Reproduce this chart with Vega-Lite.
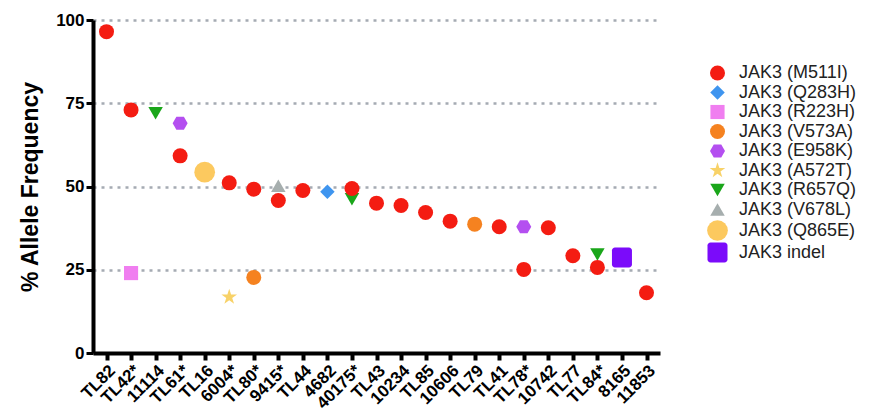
{
  "$schema": "https://vega.github.io/schema/vega-lite/v6.json",
  "width": 567,
  "height": 333,
  "autosize": {"type": "none"},
  "padding": {"left": 93, "top": 20, "right": 214, "bottom": 63},
  "background": "white",
  "config": {
    "view": {"stroke": null},
    "font": "Liberation Sans"
  },
  "data": {
    "values": [
      {"sample": "TL42*", "variant": "JAK3 (R223H)", "af": 24.0},
      {"sample": "11114", "variant": "JAK3 (R657Q)", "af": 72.0},
      {"sample": "TL61*", "variant": "JAK3 (E958K)", "af": 69.0},
      {"sample": "TL16", "variant": "JAK3 (Q865E)", "af": 54.3},
      {"sample": "6004*", "variant": "JAK3 (A572T)", "af": 16.8},
      {"sample": "TL80*", "variant": "JAK3 (V573A)", "af": 22.7},
      {"sample": "9415*", "variant": "JAK3 (V678L)", "af": 50.2},
      {"sample": "4682", "variant": "JAK3 (Q283H)", "af": 48.4},
      {"sample": "40175*", "variant": "JAK3 (R657Q)", "af": 46.2},
      {"sample": "TL79", "variant": "JAK3 (V573A)", "af": 38.7},
      {"sample": "TL78*", "variant": "JAK3 (E958K)", "af": 37.9},
      {"sample": "TL84*", "variant": "JAK3 (R657Q)", "af": 29.6},
      {"sample": "8165", "variant": "JAK3 indel", "af": 28.7},
      {"sample": "TL82", "variant": "JAK3 (M511I)", "af": 96.5},
      {"sample": "TL42*", "variant": "JAK3 (M511I)", "af": 73.0},
      {"sample": "TL61*", "variant": "JAK3 (M511I)", "af": 59.2},
      {"sample": "6004*", "variant": "JAK3 (M511I)", "af": 51.1},
      {"sample": "TL80*", "variant": "JAK3 (M511I)", "af": 49.2},
      {"sample": "9415*", "variant": "JAK3 (M511I)", "af": 45.8},
      {"sample": "TL44", "variant": "JAK3 (M511I)", "af": 48.8},
      {"sample": "40175*", "variant": "JAK3 (M511I)", "af": 49.4},
      {"sample": "TL43", "variant": "JAK3 (M511I)", "af": 45.0},
      {"sample": "10234", "variant": "JAK3 (M511I)", "af": 44.3},
      {"sample": "TL85", "variant": "JAK3 (M511I)", "af": 42.2},
      {"sample": "10606", "variant": "JAK3 (M511I)", "af": 39.6},
      {"sample": "TL41", "variant": "JAK3 (M511I)", "af": 37.9},
      {"sample": "TL78*", "variant": "JAK3 (M511I)", "af": 25.1},
      {"sample": "10742", "variant": "JAK3 (M511I)", "af": 37.6},
      {"sample": "TL77", "variant": "JAK3 (M511I)", "af": 29.2},
      {"sample": "TL84*", "variant": "JAK3 (M511I)", "af": 25.7},
      {"sample": "11853", "variant": "JAK3 (M511I)", "af": 18.1}
    ]
  },
  "mark": {"type": "point", "filled": true, "opacity": 1, "strokeWidth": 0},
  "encoding": {
    "x": {
      "field": "sample",
      "type": "nominal",
      "sort": ["TL82", "TL42*", "11114", "TL61*", "TL16", "6004*", "TL80*", "9415*", "TL44", "4682", "40175*", "TL43", "10234", "TL85", "10606", "TL79", "TL41", "TL78*", "10742", "TL77", "TL84*", "8165", "11853"],
      "scale": {"type": "point", "padding": 0.55},
      "axis": {
        "title": null,
        "labelAngle": -45,
        "labelFont": "Liberation Sans",
        "labelFontWeight": "bold",
        "labelFontSize": 17,
        "labelColor": "black",
        "labelPadding": 2,
        "domainColor": "black",
        "domainWidth": 4,
        "tickColor": "black",
        "tickWidth": 4,
        "tickSize": 7,
        "grid": false
      }
    },
    "y": {
      "field": "af",
      "type": "quantitative",
      "scale": {"domain": [0, 100], "nice": false},
      "axis": {
        "title": "% Allele Frequency",
        "titleFont": "Liberation Sans",
        "titleFontSize": 23,
        "titleFontWeight": "bold",
        "titleColor": "black",
        "titlePadding": 13,
        "values": [0, 25, 50, 75, 100],
        "labelFont": "Liberation Sans",
        "labelFontWeight": "bold",
        "labelFontSize": 17,
        "labelColor": "black",
        "labelPadding": 2,
        "domainColor": "black",
        "domainWidth": 4,
        "tickColor": "black",
        "tickWidth": 3,
        "tickSize": 7,
        "grid": true,
        "gridColor": "#a5abb3",
        "gridWidth": 2.5,
        "gridDash": [3, 5]
      }
    },
    "color": {
      "field": "variant",
      "type": "nominal",
      "scale": {
        "domain": ["JAK3 (M511I)", "JAK3 (Q283H)", "JAK3 (R223H)", "JAK3 (V573A)", "JAK3 (E958K)", "JAK3 (A572T)", "JAK3 (R657Q)", "JAK3 (V678L)", "JAK3 (Q865E)", "JAK3 indel"],
        "range": ["#f41c12", "#3f95ef", "#f07ef0", "#f58220", "#b44ff0", "#f8d268", "#1aa61a", "#a6aeae", "#fcc95f", "#7b0bfa"]
      },
      "legend": {
        "title": null,
        "orient": "none",
        "legendX": 614,
        "legendY": 44,
        "labelFont": "Liberation Sans",
        "labelFontSize": 18,
        "labelColor": "#222222",
        "labelOffset": 11,
        "rowPadding": 1.5,
        "symbolStrokeWidth": 0,
        "symbolOpacity": 1
      }
    },
    "shape": {
      "field": "variant",
      "type": "nominal",
      "scale": {
        "domain": ["JAK3 (M511I)", "JAK3 (Q283H)", "JAK3 (R223H)", "JAK3 (V573A)", "JAK3 (E958K)", "JAK3 (A572T)", "JAK3 (R657Q)", "JAK3 (V678L)", "JAK3 (Q865E)", "JAK3 indel"],
        "range": [
          "circle",
          "diamond",
          "square",
          "circle",
          "M-1,0L-0.5,-0.866L0.5,-0.866L1,0L0.5,0.866L-0.5,0.866Z",
          "M0,-1L0.2245,-0.309L0.951,-0.309L0.363,0.118L0.588,0.809L0,0.382L-0.588,0.809L-0.363,0.118L-0.951,-0.309L-0.2245,-0.309Z",
          "triangle-down",
          "triangle-up",
          "circle",
          "M-0.7,-1L0.7,-1A0.3,0.3 0 0 1 1,-0.7L1,0.7A0.3,0.3 0 0 1 0.7,1L-0.7,1A0.3,0.3 0 0 1 -1,0.7L-1,-0.7A0.3,0.3 0 0 1 -0.7,-1Z"
        ]
      }
    },
    "size": {
      "field": "variant",
      "type": "nominal",
      "scale": {
        "type": "ordinal",
        "domain": ["JAK3 (M511I)", "JAK3 (Q283H)", "JAK3 (R223H)", "JAK3 (V573A)", "JAK3 (E958K)", "JAK3 (A572T)", "JAK3 (R657Q)", "JAK3 (V678L)", "JAK3 (Q865E)", "JAK3 indel"],
        "range": [225, 210, 200, 225, 225, 270, 210, 210, 430, 400]
      }
    }
  }
}
